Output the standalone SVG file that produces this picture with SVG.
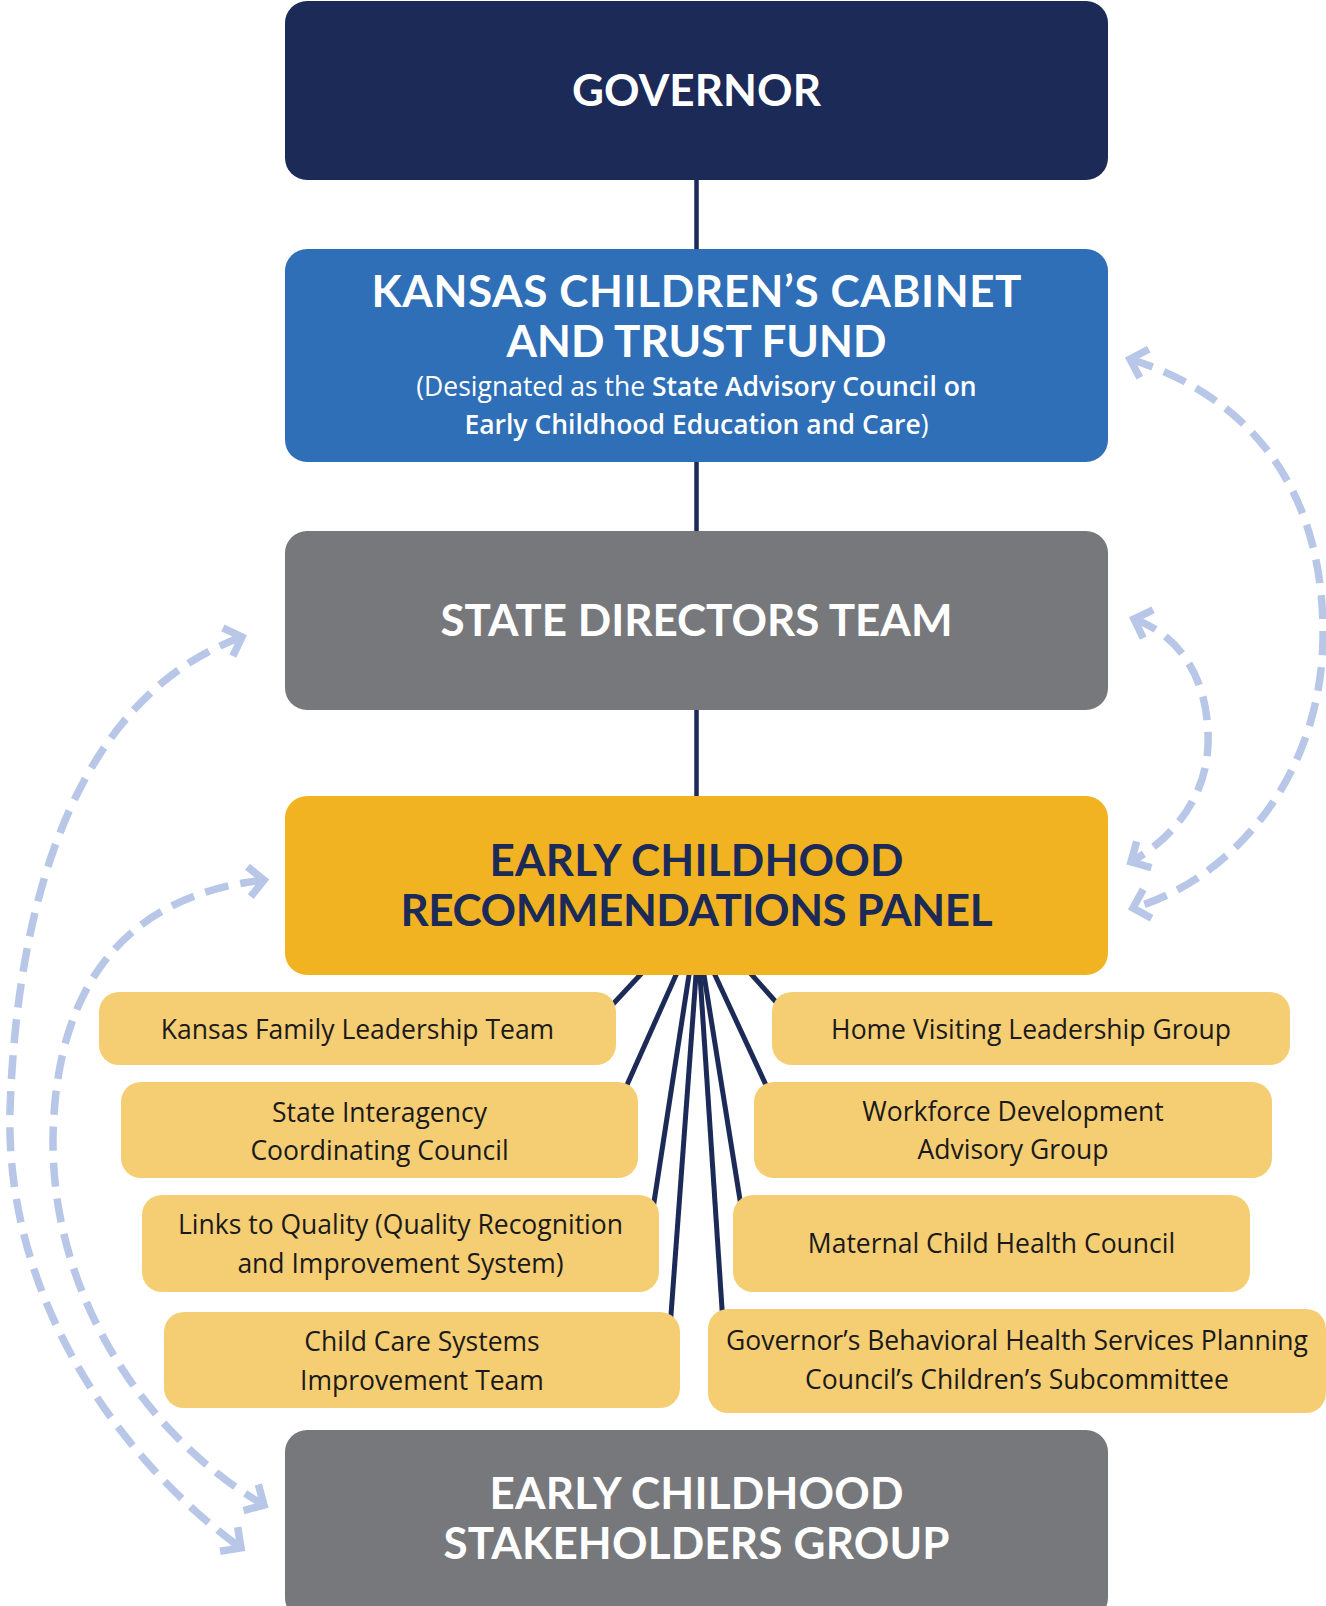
<svg xmlns="http://www.w3.org/2000/svg" width="1326" height="1606" viewBox="0 0 1326 1606">
<style>
.head{font-family:Lato,"Open Sans","DejaVu Sans",sans-serif;font-weight:700;font-size:44px;text-anchor:middle}
.w{fill:#ffffff}
.n{fill:#1B2A57}
.sub{font-family:"Open Sans","Noto Sans","DejaVu Sans",sans-serif;font-size:26.5px;fill:#ffffff;text-anchor:middle}
.lbl{font-family:"Open Sans","Noto Sans","DejaVu Sans",sans-serif;font-size:26.5px;fill:#1a1a1a;text-anchor:middle}
.box{fill:#F5CD73}
.vline{stroke:#1B2A57;stroke-width:4.5;fill:none}
.fan{stroke:#1B2A57;stroke-width:5;fill:none}
.dash{stroke:#B8C7E8;stroke-width:7.5;fill:none;stroke-dasharray:24 12;marker-start:url(#ah);marker-end:url(#ah)}
</style>
<defs>
<marker id="ah" markerUnits="userSpaceOnUse" viewBox="-30 -25 40 50" markerWidth="40" markerHeight="50" refX="0" refY="0" orient="auto-start-reverse">
<path d="M-15,-15 L0,0 L-15,15" fill="none" stroke="#B8C7E8" stroke-width="7.5"/>
</marker>
</defs>
<rect width="1326" height="1606" fill="#ffffff"/>

<g id="connectors">
<line class="vline" x1="696.5" y1="170" x2="696.5" y2="260"/>
<line class="vline" x1="696.5" y1="450" x2="696.5" y2="540"/>
<line class="vline" x1="696.5" y1="700" x2="696.5" y2="806"/>
<line class="fan" x1="654" y1="960" x2="606.6" y2="1011"/>
<line class="fan" x1="682.7" y1="960" x2="623.4" y2="1093"/>
<line class="fan" x1="691.3" y1="960" x2="652.8" y2="1210"/>
<line class="fan" x1="697.1" y1="960" x2="670.4" y2="1323"/>
<line class="fan" x1="699" y1="960" x2="722.5" y2="1316"/>
<line class="fan" x1="701.6" y1="960" x2="741.3" y2="1208"/>
<line class="fan" x1="708" y1="960" x2="769.7" y2="1093"/>
<line class="fan" x1="738.7" y1="960" x2="783" y2="1010"/>
<path class="dash" d="M 1130 359 C 1260 400, 1325 500, 1323 640 C 1320 780, 1230 880, 1133 908"/>
<path class="dash" d="M 1134 619 C 1180 635, 1210 680, 1208 745 C 1206 800, 1170 840, 1131 862"/>
<path class="dash" d="M 242 637 C 120 680, 20 820, 10 1110 C 5 1300, 120 1460, 241 1548"/>
<path class="dash" d="M 264 880 C 130 895, 55 980, 53 1140 C 52 1300, 150 1440, 264 1505"/>
</g>

<g id="governor">
<rect x="285" y="1" width="823" height="179" rx="22" fill="#1B2A57"/>
<text class="head w" x="696.5" y="106" textLength="249">GOVERNOR</text>
</g>

<g id="cabinet">
<rect x="285" y="249" width="823" height="213" rx="22" fill="#2E6FB7"/>
<text class="head w" x="696.5" y="307" textLength="650">KANSAS CHILDREN’S CABINET</text>
<text class="head w" x="696.5" y="357" textLength="380">AND TRUST FUND</text>
<text class="sub" x="696.5" y="396">(Designated as the <tspan font-weight="600">State Advisory Council on</tspan></text>
<text class="sub" x="696.5" y="434"><tspan font-weight="600">Early Childhood Education and Care</tspan>)</text>
</g>

<g id="state-directors">
<rect x="285" y="531" width="823" height="179" rx="22" fill="#77787C"/>
<text class="head w" x="696.5" y="636" textLength="512">STATE DIRECTORS TEAM</text>
</g>

<g id="ecrp">
<rect x="285" y="796" width="823" height="179" rx="22" fill="#F2B322"/>
<text class="head n" x="696.5" y="876" textLength="414">EARLY CHILDHOOD</text>
<text class="head n" x="696.5" y="926" textLength="592">RECOMMENDATIONS PANEL</text>
</g>

<g id="kansas-family">
<rect class="box" x="99" y="992" width="517" height="73" rx="20"/>
<text class="lbl" x="357.5" y="1039">Kansas Family Leadership Team</text>
</g>
<g id="state-interagency">
<rect class="box" x="121" y="1082" width="517" height="96" rx="20"/>
<text class="lbl" x="379.5" y="1122">State Interagency</text>
<text class="lbl" x="379.5" y="1160">Coordinating Council</text>
</g>
<g id="links-to-quality">
<rect class="box" x="142" y="1195" width="517" height="97" rx="20"/>
<text class="lbl" x="400.5" y="1234">Links to Quality (Quality Recognition</text>
<text class="lbl" x="400.5" y="1273">and Improvement System)</text>
</g>
<g id="child-care">
<rect class="box" x="164" y="1312" width="516" height="96" rx="20"/>
<text class="lbl" x="422" y="1351">Child Care Systems</text>
<text class="lbl" x="422" y="1390">Improvement Team</text>
</g>
<g id="home-visiting">
<rect class="box" x="772" y="992" width="518" height="73" rx="20"/>
<text class="lbl" x="1031" y="1039">Home Visiting Leadership Group</text>
</g>
<g id="workforce">
<rect class="box" x="754" y="1082" width="518" height="96" rx="20"/>
<text class="lbl" x="1013" y="1121">Workforce Development</text>
<text class="lbl" x="1013" y="1159">Advisory Group</text>
</g>
<g id="maternal">
<rect class="box" x="733" y="1195" width="517" height="97" rx="20"/>
<text class="lbl" x="991.5" y="1253">Maternal Child Health Council</text>
</g>
<g id="behavioral">
<rect class="box" x="708" y="1309" width="618" height="104" rx="20"/>
<text class="lbl" x="1017" y="1350">Governor’s Behavioral Health Services Planning</text>
<text class="lbl" x="1017" y="1389">Council’s Children’s Subcommittee</text>
</g>

<g id="stakeholders">
<rect x="285" y="1430" width="823" height="190" rx="22" fill="#77787C"/>
<text class="head w" x="696.5" y="1509" textLength="414">EARLY CHILDHOOD</text>
<text class="head w" x="696.5" y="1559" textLength="506">STAKEHOLDERS GROUP</text>
</g>
</svg>
